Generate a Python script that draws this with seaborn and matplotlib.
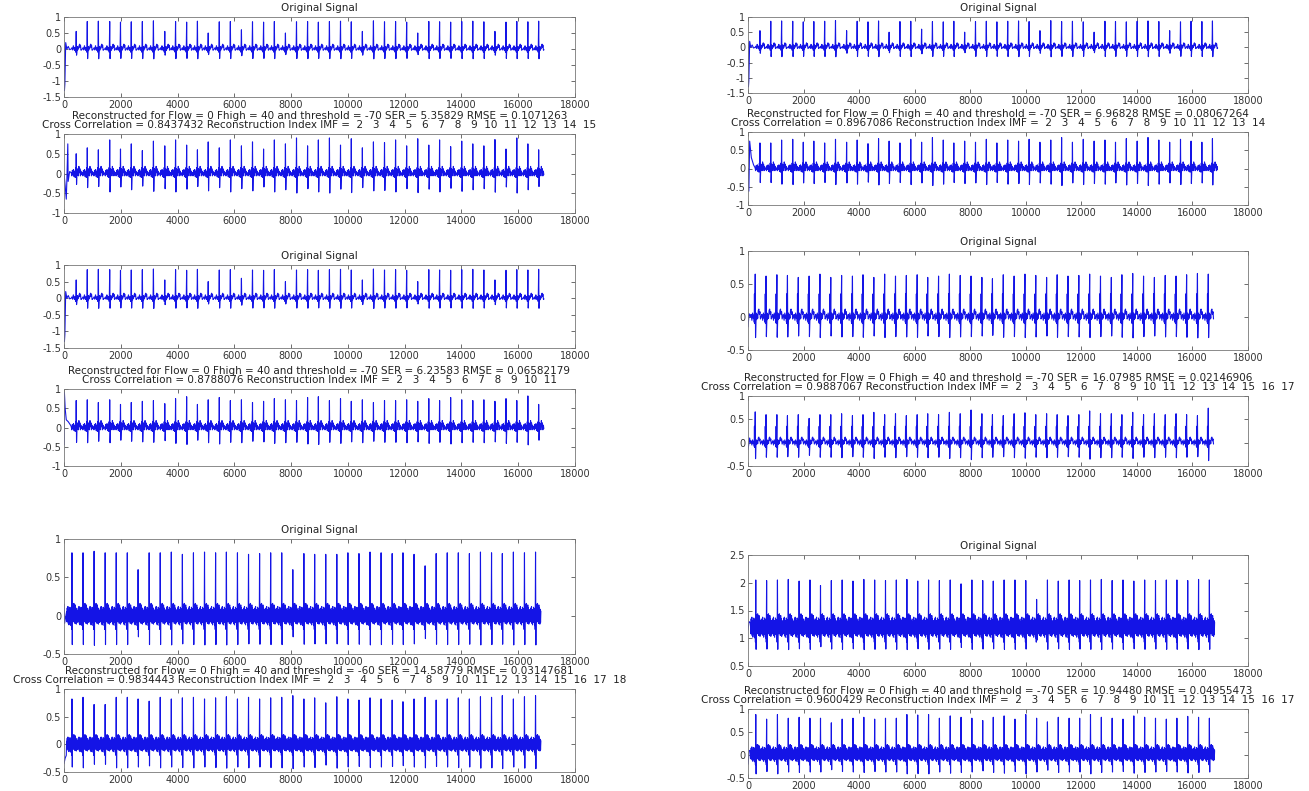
import numpy as np
import pandas as pd
import seaborn as sns
import matplotlib.pyplot as plt
from matplotlib.ticker import FuncFormatter, MultipleLocator

# R-peak sample positions
beat_pos_a = [430, 820, 1210, 1610, 1990, 2370, 2760, 3150, 3550, 3930, 4320, 4700, 5080, 5470,
              5860, 6250, 6640, 7030, 7410, 7800, 8190, 8580, 8960, 9350, 9740, 10120, 10510,
              10900, 11290, 11680, 12070, 12460, 12850, 13230, 13620, 14010, 14400, 14790,
              15180, 15570, 15950, 16340, 16720]
beat_pos_e = [260, 650, 1040, 1420, 1810, 2200, 2590, 2980, 3370, 3760, 4140, 4530, 4920, 5310,
              5700, 6090, 6470, 6860, 7250, 7640, 8030, 8420, 8800, 9190, 9580, 9970, 10360,
              10750, 11130, 11520, 11910, 12300, 12690, 13080, 13460, 13850, 14240, 14630,
              15020, 15410, 15790, 16180, 16570]
beat_pos_cf = [280, 670, 1060, 1450, 1840, 2230, 2610, 3000, 3390, 3780, 4170, 4560, 4950, 5340,
               5720, 6110, 6500, 6890, 7280, 7670, 8060, 8450, 8830, 9220, 9610, 10000, 10390,
               10780, 11170, 11560, 11940, 12330, 12720, 13110, 13500, 13890, 14280, 14670,
               15060, 15440, 15830, 16220, 16610]

# R-peak heights per panel
orig_a_r = [0.55, 0.86, 0.87, 0.86, 0.84, 0.85, 0.86, 0.88, 0.55, 0.86, 0.84, 0.87, 0.5, 0.85, 0.86,
            0.6, 0.85, 0.84, 0.86, 0.5, 0.85, 0.86, 0.84, 0.86, 0.87, 0.85, 0.55, 0.88, 0.85, 0.86,
            0.84, 0.5, 0.86, 0.85, 0.84, 0.86, 0.87, 0.85, 0.55, 0.84, 0.86, 0.85, 0.87]
rec_a_r = [0.5, 0.65, 0.6, 0.85, 0.62, 0.75, 0.58, 0.82, 0.7, 0.85, 0.72, 0.6, 0.8, 0.65, 0.85, 0.7,
           0.8, 0.62, 0.85, 0.75, 0.9, 0.7, 0.85, 0.9, 0.72, 0.88, 0.65, 0.8, 0.78, 0.85, 0.7, 0.88,
           0.72, 0.85, 0.68, 0.82, 0.75, 0.7, 0.86, 0.62, 0.9, 0.75, 0.6]
rec_b_r = [0.7, 0.72, 0.65, 0.72, 0.6, 0.65, 0.68, 0.7, 0.62, 0.75, 0.8, 0.6, 0.72, 0.78, 0.7, 0.72,
           0.65, 0.68, 0.75, 0.72, 0.7, 0.78, 0.8, 0.7, 0.75, 0.68, 0.72, 0.65, 0.7, 0.7, 0.72, 0.68,
           0.75, 0.7, 0.78, 0.72, 0.7, 0.72, 0.68, 0.75, 0.7, 0.82, 0.6]
rec_d_r = [0.7, 0.7, 0.78, 0.8, 0.72, 0.75, 0.7, 0.8, 0.72, 0.78, 0.68, 0.82, 0.75, 0.7, 0.8, 0.72,
           0.85, 0.78, 0.7, 0.75, 0.72, 0.8, 0.7, 0.78, 0.75, 0.8, 0.72, 0.78, 0.85, 0.72, 0.8, 0.75,
           0.78, 0.72, 0.82, 0.75, 0.85, 0.78, 0.72, 0.8, 0.75, 0.72, 0.82]
orig_e_r = [0.65, 0.62, 0.64, 0.63, 0.6, 0.62, 0.65, 0.6, 0.63, 0.62, 0.64, 0.6, 0.65, 0.62, 0.63,
            0.64, 0.6, 0.62, 0.65, 0.63, 0.62, 0.6, 0.58, 0.64, 0.62, 0.65, 0.63, 0.6, 0.64, 0.62,
            0.63, 0.65, 0.62, 0.6, 0.64, 0.66, 0.62, 0.6, 0.63, 0.62, 0.64, 0.66, 0.65]
rec_e_r = [0.66, 0.6, 0.6, 0.58, 0.6, 0.52, 0.6, 0.6, 0.62, 0.58, 0.6, 0.65, 0.6, 0.62, 0.58, 0.6,
           0.62, 0.6, 0.65, 0.62, 0.7, 0.62, 0.6, 0.58, 0.62, 0.64, 0.6, 0.62, 0.6, 0.58, 0.6, 0.68,
           0.62, 0.62, 0.6, 0.65, 0.6, 0.62, 0.6, 0.62, 0.6, 0.58, 0.74]
orig_c_r = [0.82, 0.82, 0.84, 0.82, 0.82, 0.82, 0.6, 0.82, 0.82, 0.83, 0.8, 0.82, 0.83, 0.82, 0.83,
            0.82, 0.8, 0.81, 0.82, 0.82, 0.6, 0.81, 0.8, 0.8, 0.8, 0.82, 0.81, 0.83, 0.82, 0.81,
            0.82, 0.8, 0.65, 0.81, 0.82, 0.82, 0.81, 0.83, 0.82, 0.81, 0.83, 0.82, 0.83]
rec_c_r = [0.82, 0.85, 0.72, 0.72, 0.85, 0.85, 0.82, 0.78, 0.85, 0.82, 0.84, 0.85, 0.82, 0.84, 0.86,
           0.82, 0.85, 0.82, 0.84, 0.85, 0.88, 0.82, 0.84, 0.75, 0.86, 0.82, 0.8, 0.84, 0.82, 0.8,
           0.77, 0.82, 0.85, 0.8, 0.82, 0.84, 0.82, 0.86, 0.85, 0.88, 0.82, 0.86, 0.88]
orig_f_r = [2.05, 2.04, 2.05, 2.06, 2.03, 2.05, 1.95, 2.04, 2.05, 2.03, 2.06, 2.05, 2.04, 2.05, 2.06,
            2.03, 2.05, 2.04, 2.05, 1.98, 2.05, 2.04, 2.03, 2.05, 2.05, 2.04, 1.7, 2.05, 2.03, 2.05,
            2.04, 2.05, 2.06, 2.04, 2.05, 2.03, 2.05, 2.04, 2.05, 2.05, 2.04, 2.06, 2.05]
rec_f_r = [0.88, 0.78, 0.88, 0.8, 0.82, 0.8, 0.8, 0.7, 0.78, 0.8, 0.82, 0.78, 0.8, 0.8, 0.88, 0.87,
           0.88, 0.8, 0.85, 0.82, 0.8, 0.75, 0.82, 0.85, 0.78, 0.88, 0.8, 0.72, 0.82, 0.8, 0.8, 0.88,
           0.82, 0.8, 0.78, 0.85, 0.82, 0.8, 0.78, 0.8, 0.84, 0.82, 0.8]

# beat shapes (sample offset from the R peak, level relative to baseline)
clean_off = [-175, -150, -125, -100, -80, -60, -40, -25, -15, 22, 32, 45, 60, 80, 100, 120, 135,
             150, 170, 188]
clean_val = [0.0, 0.04, -0.03, 0.1, 0.02, -0.04, 0.05, -0.06, -0.1, -0.12, 0.08, -0.05, 0.06,
             0.0, 0.1, 0.15, 0.05, 0.12, -0.04, -0.02]
rec_off = [-175, -155, -135, -115, -95, -75, -55, -35, -20, -10, 22, 34, 48, 62, 78, 95, 112, 130,
           148, 165, 182]
rec_val = [0.02, -0.06, 0.08, -0.03, 0.1, -0.08, 0.06, -0.1, 0.15, -0.08, -0.12, 0.12, -0.05,
           0.1, -0.06, 0.18, 0.02, 0.12, -0.06, 0.06, -0.03]
e_off = [-175, -150, -120, -95, -70, -50, -35, -28, -20, 22, 35, 50, 70, 90, 110, 130, 150, 170,
         188]
e_val = [0.0, 0.04, -0.05, 0.06, -0.02, 0.03, -0.08, 0.35, -0.1, -0.12, 0.06, -0.04, 0.04,
         -0.02, 0.1, 0.12, 0.04, 0.08, -0.03]
noisy_off = [-190, -178, -166, -154, -142, -130, -118, -106, -94, -82, -70, -58, -46, -34, -22, -12,
             20, 32, 44, 56, 68, 80, 92, 104, 116, 128, 140, 152, 164, 176, 188]
noisy_val = [0.05, -0.08, 0.10, -0.06, 0.12, -0.10, 0.08, -0.12, 0.06, -0.09, 0.11, -0.07, 0.09,
             -0.13, 0.04, -0.18, 0.15, -0.05, 0.12, -0.08, 0.16, -0.04, 0.13, -0.10, 0.14, -0.06,
             0.10, -0.11, 0.08, -0.09, 0.06]

# start-of-record transients (x, y)
lead_orig = ([0, 15, 30, 60, 100, 150, 200], [0.15, -1.3, -1.1, 0.2, 0.0, 0.08, -0.02])
lead_rec_a = ([0, 40, 80, 100, 134, 146, 200], [0.0, -0.3, -0.65, -0.2, 0.75, -0.2, 0.05])
lead_rec_b = ([0, 15, 40, 80, 150, 240], [-0.45, 0.9, 0.5, 0.2, 0.15, 0.05])
lead_rec_d = ([0, 30, 60, 80, 120, 200], [0.0, -0.62, 0.75, 0.6, 0.3, 0.1])
lead_e1 = ([0, 40], [-0.15, 0.05])
lead_e2 = ([0, 60], [-0.15, 0.1])
lead_c1 = ([0, 20], [0.15, -0.1])
lead_c2 = ([0, 40, 80], [-0.35, -0.25, -0.2])
lead_f1 = ([0, 40], [1.15, 1.3])
lead_f2 = ([0, 50], [-0.2, 0.1])

# reconstruction statistics for titles
rec_thr = [-70, -70, -70, -70, -60, -70]
rec_ser = ["5.35829", "6.96828", "6.23583", "16.07985", "14.58779", "10.94480"]
rec_rmse = ["0.1071263", "0.08067264", "0.06582179", "0.02146906", "0.03147681", "0.04955473"]
rec_cc = ["0.8437432", "0.8967086", "0.8788076", "0.9887067", "0.9834443", "0.9600429"]
rec_imf_last = [15, 14, 11, 17, 18, 17]


def build_signal(lead, pos, peaks, off, val, s_ratio, base=0.0, scale=1.0):
    xs, ys = list(lead[0]), list(lead[1])
    for p, pk in zip(pos, peaks):
        pts = [(o, base + scale * v) for o, v in zip(off, val)]
        pts += [(0, pk), (12, base + s_ratio * (pk - base))]
        pts.sort()
        for o, v in pts:
            xs.append(p + o)
            ys.append(v)
    return pd.DataFrame({"sample": xs, "amp": ys})


def rec_title(i):
    imf = "  ".join(f"{k:2d}" for k in range(2, rec_imf_last[i] + 1))
    return (f"Reconstructed for Flow = 0 Fhigh = 40 and threshold = {rec_thr[i]} "
            f"SER = {rec_ser[i]} RMSE = {rec_rmse[i]}\n"
            f"Cross Correlation = {rec_cc[i]} Reconstruction Index IMF = {imf}")


sns.set_theme(style="ticks")
plt.rcParams['font.family'] = ['DejaVu Sans']
plt.rcParams['axes.unicode_minus'] = False

W, H = 1309, 791
fig = plt.figure(figsize=(W / 100, H / 100), dpi=100)

LX0, LX1 = 64, 575
RX0, RX1 = 748, 1248

panels = [
    # (x0, x1, ytop, ybottom, data, ylim, title)
    (LX0, LX1, 17, 97, build_signal(lead_orig, beat_pos_a, orig_a_r, clean_off, clean_val, -0.35),
     (-1.5, 1), "Original Signal"),
    (LX0, LX1, 134, 213, build_signal(lead_rec_a, beat_pos_a, rec_a_r, rec_off, rec_val, -0.55),
     (-1, 1), rec_title(0)),
    (RX0, RX1, 17, 93, build_signal(lead_orig, beat_pos_a, orig_a_r, clean_off, clean_val, -0.35),
     (-1.5, 1), "Original Signal"),
    (RX0, RX1, 132, 205, build_signal(lead_rec_d, beat_pos_a, rec_d_r, rec_off, rec_val, -0.55),
     (-1, 1), rec_title(1)),
    (LX0, LX1, 265, 348, build_signal(lead_orig, beat_pos_a, orig_a_r, clean_off, clean_val, -0.35),
     (-1.5, 1), "Original Signal"),
    (LX0, LX1, 389, 466, build_signal(lead_rec_b, beat_pos_a, rec_b_r, rec_off, rec_val, -0.55),
     (-1, 1), rec_title(2)),
    (RX0, RX1, 251, 350, build_signal(lead_e1, beat_pos_e, orig_e_r, e_off, e_val, -0.48),
     (-0.5, 1), "Original Signal"),
    (RX0, RX1, 396, 466, build_signal(lead_e2, beat_pos_e, rec_e_r, e_off, e_val, -0.52),
     (-0.5, 1), rec_title(3)),
    (LX0, LX1, 539, 654, build_signal(lead_c1, beat_pos_cf, orig_c_r, noisy_off, noisy_val, -0.46),
     (-0.5, 1), "Original Signal"),
    (LX0, LX1, 689, 772, build_signal(lead_c2, beat_pos_cf, rec_c_r, noisy_off, noisy_val, -0.5, 0.0, 1.1),
     (-0.5, 1), rec_title(4)),
    (RX0, RX1, 555, 666, build_signal(lead_f1, beat_pos_cf, orig_f_r, noisy_off, noisy_val, -0.47, 1.2, 1.5),
     (0.5, 2.5), "Original Signal"),
    (RX0, RX1, 709, 778, build_signal(lead_f2, beat_pos_cf, rec_f_r, noisy_off, noisy_val, -0.5, 0.02, 1.3),
     (-0.5, 1), rec_title(5)),
]

fmt = FuncFormatter(lambda v, p: f"{v:g}")

for x0, x1, yt, yb, df, ylim, title in panels:
    ax = fig.add_axes([x0 / W, 1 - yb / H, (x1 - x0) / W, (yb - yt) / H])
    sns.lineplot(data=df, x="sample", y="amp", ax=ax, color="#1414e6", linewidth=0.8,
                 estimator=None, sort=False)
    ax.set_xlim(0, 18000)
    ax.set_ylim(*ylim)
    ax.xaxis.set_major_locator(MultipleLocator(2000))
    ax.yaxis.set_major_locator(MultipleLocator(0.5))
    ax.xaxis.set_major_formatter(fmt)
    ax.yaxis.set_major_formatter(fmt)
    ax.set_xlabel("")
    ax.set_ylabel("")
    ax.tick_params(direction="in", length=3, width=0.5, top=True, right=True,
                   labelsize=7, pad=2, colors="#333333")
    for sp in ax.spines.values():
        sp.set_color("#777777")
        sp.set_linewidth(0.6)
    ax.set_title(title, fontsize=7.5, pad=4.5, linespacing=0.8, color="#222222")

fig.savefig("out.png", dpi=100, facecolor="white")
